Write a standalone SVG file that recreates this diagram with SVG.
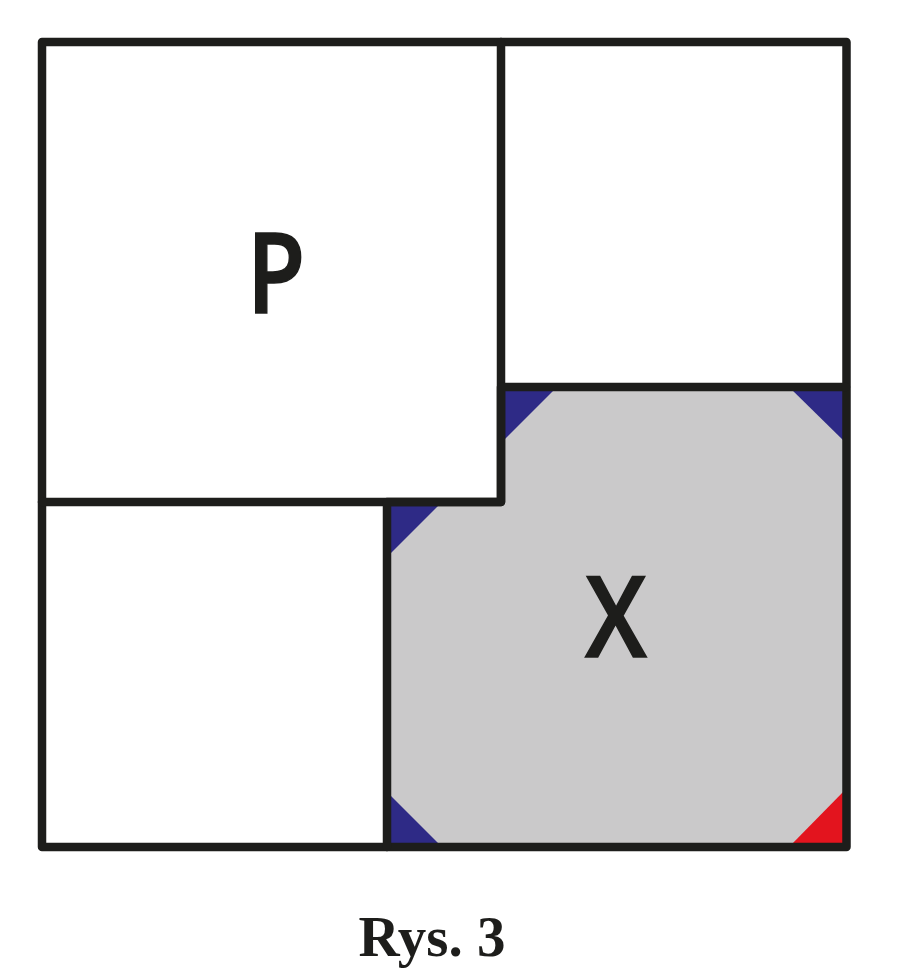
<svg xmlns="http://www.w3.org/2000/svg" width="900" height="980" viewBox="0 0 900 980">
<style>
.ln{fill:none;stroke:#1d1d1b;stroke-width:8.5;stroke-linejoin:round;stroke-linecap:round}
.bl{fill:#2e2a86}
.rd{fill:#e3141e}
.lbl{font-family:"Open Sans","Noto Sans",sans-serif;font-weight:600;font-size:112px;fill:#1d1d1b;stroke:#1d1d1b;stroke-width:1.6;text-anchor:middle}
.cap{font-family:"Liberation Serif",serif;font-weight:bold;font-size:57px;fill:#1d1d1b;text-anchor:middle}
</style>
<rect x="0" y="0" width="900" height="980" fill="#ffffff"/>
<g id="regionX">
<polygon points="501,387 846,387 846,847 387,847 387,502 501,502" fill="#cac9ca"/>
<polygon class="bl" points="501,387 557,387 501,443"/>
<polygon class="bl" points="846,387 789,387 846,443"/>
<polygon class="bl" points="387,502 442,502 387,557"/>
<polygon class="bl" points="387,847 387,792 442,847"/>
<polygon class="rd" points="846,847 789,847 846,789"/>
<text class="lbl" transform="translate(616,657) scale(0.88,1)" x="0" y="0">X</text>
</g>
<g id="regionP">
<text class="lbl" transform="translate(276,313) scale(0.85,1)" x="0" y="0">P</text>
</g>
<g id="lines">
<rect class="ln" x="42" y="42" width="804.5" height="805"/>
<path class="ln" d="M42,502 H501 V42"/>
<path class="ln" d="M387,847 V502 H501 V387 H846"/>
</g>
<text class="cap" x="432" y="956">Rys. 3</text>
</svg>
